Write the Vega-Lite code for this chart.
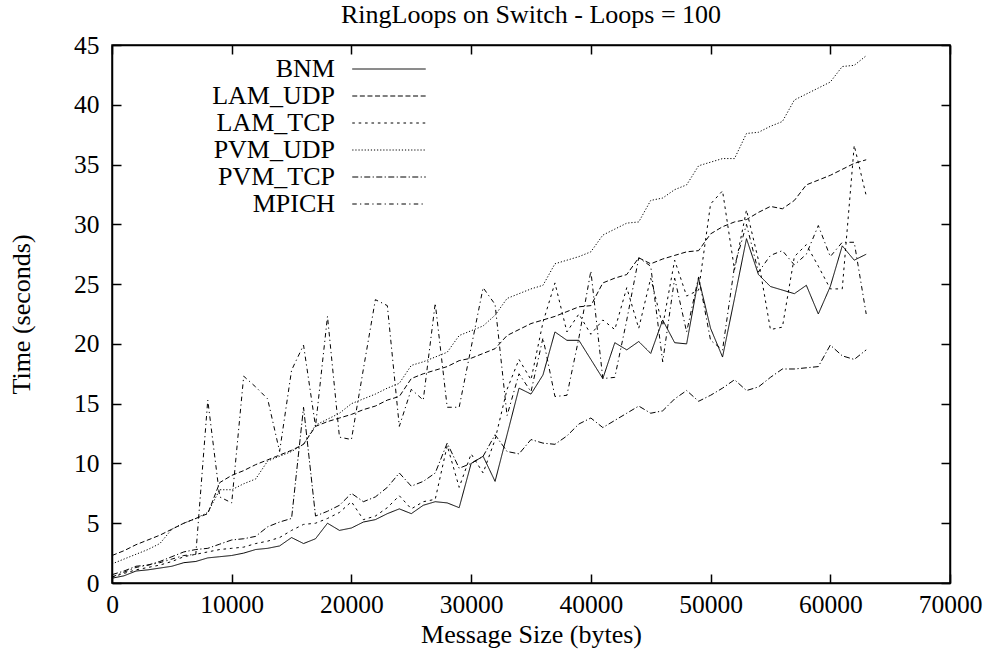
{
  "$schema": "https://vega.github.io/schema/vega-lite/v6.json",
  "width": 838,
  "height": 538,
  "autosize": {"type": "none"},
  "padding": {"left": 112, "top": 45, "right": 40, "bottom": 73},
  "background": "white",
  "title": {"text": "RingLoops on Switch - Loops = 100", "font": "Liberation Serif", "fontSize": 26, "fontWeight": "normal", "color": "black", "baseline": "alphabetic", "offset": -16},
  "config": {
    "view": {"stroke": "black", "strokeWidth": 1.5},
    "axis": {"grid": false, "labelFont": "Liberation Serif", "labelFontSize": 25.5, "labelColor": "black", "titleFont": "Liberation Serif", "titleFontSize": 26, "titleFontWeight": "normal", "titleColor": "black", "domainColor": "black", "domainWidth": 1.5, "tickColor": "black", "tickWidth": 1.5, "labelFlush": false, "labelOverlap": false},
    "legend": {"symbolStrokeColor": "black", "symbolStrokeWidth": 1}
  },
  "datasets": {
    "runs": [
      {"size":0,"BNM":0.4,"LAM_UDP":2.3,"LAM_TCP":0.5,"PVM_UDP":1.6,"PVM_TCP":0.7,"MPICH":0.5},
      {"size":1000,"BNM":0.6,"LAM_UDP":2.7,"LAM_TCP":0.8,"PVM_UDP":2.0,"PVM_TCP":1.0,"MPICH":0.9},
      {"size":2000,"BNM":1.0,"LAM_UDP":3.2,"LAM_TCP":1.1,"PVM_UDP":2.4,"PVM_TCP":1.4,"MPICH":1.3},
      {"size":3000,"BNM":1.1,"LAM_UDP":3.6,"LAM_TCP":1.3,"PVM_UDP":2.8,"PVM_TCP":1.5,"MPICH":1.5},
      {"size":4000,"BNM":1.25,"LAM_UDP":4.0,"LAM_TCP":1.5,"PVM_UDP":3.3,"PVM_TCP":1.8,"MPICH":1.7},
      {"size":5000,"BNM":1.4,"LAM_UDP":4.5,"LAM_TCP":1.8,"PVM_UDP":4.5,"PVM_TCP":2.2,"MPICH":2.0},
      {"size":6000,"BNM":1.7,"LAM_UDP":5.0,"LAM_TCP":2.2,"PVM_UDP":5.0,"PVM_TCP":2.6,"MPICH":2.3},
      {"size":7000,"BNM":1.8,"LAM_UDP":5.4,"LAM_TCP":2.4,"PVM_UDP":5.4,"PVM_TCP":2.8,"MPICH":2.4},
      {"size":8000,"BNM":2.1,"LAM_UDP":5.8,"LAM_TCP":2.6,"PVM_UDP":5.9,"PVM_TCP":2.9,"MPICH":15.3},
      {"size":9000,"BNM":2.2,"LAM_UDP":8.4,"LAM_TCP":2.8,"PVM_UDP":7.8,"PVM_TCP":3.25,"MPICH":7.2},
      {"size":10000,"BNM":2.3,"LAM_UDP":9.0,"LAM_TCP":2.9,"PVM_UDP":7.8,"PVM_TCP":3.6,"MPICH":6.7},
      {"size":11000,"BNM":2.5,"LAM_UDP":9.4,"LAM_TCP":3.0,"PVM_UDP":8.3,"PVM_TCP":3.7,"MPICH":17.3},
      {"size":12000,"BNM":2.8,"LAM_UDP":9.9,"LAM_TCP":3.3,"PVM_UDP":8.7,"PVM_TCP":3.9,"MPICH":16.4},
      {"size":13000,"BNM":2.9,"LAM_UDP":10.3,"LAM_TCP":3.5,"PVM_UDP":10.2,"PVM_TCP":4.7,"MPICH":15.4},
      {"size":14000,"BNM":3.1,"LAM_UDP":10.7,"LAM_TCP":3.8,"PVM_UDP":10.6,"PVM_TCP":5.1,"MPICH":11.0},
      {"size":15000,"BNM":3.8,"LAM_UDP":11.1,"LAM_TCP":4.4,"PVM_UDP":11.0,"PVM_TCP":5.4,"MPICH":17.8},
      {"size":16000,"BNM":3.3,"LAM_UDP":11.6,"LAM_TCP":4.9,"PVM_UDP":11.6,"PVM_TCP":14.7,"MPICH":19.9},
      {"size":17000,"BNM":3.7,"LAM_UDP":13.1,"LAM_TCP":5.0,"PVM_UDP":13.2,"PVM_TCP":5.6,"MPICH":13.1},
      {"size":18000,"BNM":5.0,"LAM_UDP":13.5,"LAM_TCP":5.4,"PVM_UDP":13.7,"PVM_TCP":6.0,"MPICH":22.3},
      {"size":19000,"BNM":4.4,"LAM_UDP":13.8,"LAM_TCP":5.9,"PVM_UDP":14.2,"PVM_TCP":6.5,"MPICH":12.2},
      {"size":20000,"BNM":4.6,"LAM_UDP":14.1,"LAM_TCP":6.8,"PVM_UDP":15.0,"PVM_TCP":7.5,"MPICH":12.0},
      {"size":21000,"BNM":5.1,"LAM_UDP":14.5,"LAM_TCP":5.3,"PVM_UDP":15.4,"PVM_TCP":6.8,"MPICH":17.9},
      {"size":22000,"BNM":5.3,"LAM_UDP":14.8,"LAM_TCP":5.6,"PVM_UDP":15.8,"PVM_TCP":7.2,"MPICH":23.7},
      {"size":23000,"BNM":5.8,"LAM_UDP":15.3,"LAM_TCP":6.3,"PVM_UDP":16.3,"PVM_TCP":8.0,"MPICH":23.2},
      {"size":24000,"BNM":6.2,"LAM_UDP":15.6,"LAM_TCP":7.3,"PVM_UDP":16.7,"PVM_TCP":9.2,"MPICH":13.1},
      {"size":25000,"BNM":5.8,"LAM_UDP":17.1,"LAM_TCP":6.2,"PVM_UDP":18.2,"PVM_TCP":8.1,"MPICH":16.2},
      {"size":26000,"BNM":6.5,"LAM_UDP":17.5,"LAM_TCP":6.8,"PVM_UDP":18.5,"PVM_TCP":8.5,"MPICH":15.3},
      {"size":27000,"BNM":6.8,"LAM_UDP":17.8,"LAM_TCP":7.0,"PVM_UDP":18.9,"PVM_TCP":9.2,"MPICH":23.4},
      {"size":28000,"BNM":6.7,"LAM_UDP":18.1,"LAM_TCP":11.5,"PVM_UDP":19.3,"PVM_TCP":11.7,"MPICH":14.7},
      {"size":29000,"BNM":6.3,"LAM_UDP":18.6,"LAM_TCP":8.0,"PVM_UDP":20.7,"PVM_TCP":9.6,"MPICH":14.7},
      {"size":30000,"BNM":10.0,"LAM_UDP":18.8,"LAM_TCP":10.8,"PVM_UDP":21.1,"PVM_TCP":10.0,"MPICH":19.7},
      {"size":31000,"BNM":10.6,"LAM_UDP":19.2,"LAM_TCP":9.2,"PVM_UDP":21.5,"PVM_TCP":10.6,"MPICH":24.7},
      {"size":32000,"BNM":8.5,"LAM_UDP":19.6,"LAM_TCP":12.0,"PVM_UDP":22.4,"PVM_TCP":12.4,"MPICH":23.3},
      {"size":33000,"BNM":12.4,"LAM_UDP":20.7,"LAM_TCP":16.2,"PVM_UDP":23.8,"PVM_TCP":11.0,"MPICH":14.0},
      {"size":34000,"BNM":16.3,"LAM_UDP":21.2,"LAM_TCP":18.7,"PVM_UDP":24.2,"PVM_TCP":10.8,"MPICH":17.5},
      {"size":35000,"BNM":15.8,"LAM_UDP":21.7,"LAM_TCP":17.0,"PVM_UDP":24.6,"PVM_TCP":12.0,"MPICH":16.0},
      {"size":36000,"BNM":17.4,"LAM_UDP":22.0,"LAM_TCP":21.8,"PVM_UDP":24.9,"PVM_TCP":11.7,"MPICH":20.5},
      {"size":37000,"BNM":21.0,"LAM_UDP":22.3,"LAM_TCP":25.1,"PVM_UDP":26.7,"PVM_TCP":11.6,"MPICH":15.6},
      {"size":38000,"BNM":20.3,"LAM_UDP":22.7,"LAM_TCP":21.0,"PVM_UDP":27.0,"PVM_TCP":12.3,"MPICH":15.7},
      {"size":39000,"BNM":20.3,"LAM_UDP":23.1,"LAM_TCP":22.5,"PVM_UDP":27.3,"PVM_TCP":13.3,"MPICH":20.5},
      {"size":40000,"BNM":18.7,"LAM_UDP":23.2,"LAM_TCP":20.8,"PVM_UDP":27.7,"PVM_TCP":13.8,"MPICH":26.1},
      {"size":41000,"BNM":17.1,"LAM_UDP":25.1,"LAM_TCP":22.0,"PVM_UDP":29.1,"PVM_TCP":13.0,"MPICH":17.1},
      {"size":42000,"BNM":20.1,"LAM_UDP":25.5,"LAM_TCP":21.2,"PVM_UDP":29.6,"PVM_TCP":13.6,"MPICH":17.2},
      {"size":43000,"BNM":19.5,"LAM_UDP":25.8,"LAM_TCP":24.7,"PVM_UDP":30.1,"PVM_TCP":14.2,"MPICH":22.0},
      {"size":44000,"BNM":20.2,"LAM_UDP":27.2,"LAM_TCP":21.3,"PVM_UDP":30.2,"PVM_TCP":14.8,"MPICH":27.2},
      {"size":45000,"BNM":19.2,"LAM_UDP":26.7,"LAM_TCP":25.5,"PVM_UDP":32.0,"PVM_TCP":14.2,"MPICH":26.5},
      {"size":46000,"BNM":22.0,"LAM_UDP":27.1,"LAM_TCP":21.5,"PVM_UDP":32.2,"PVM_TCP":14.4,"MPICH":18.5},
      {"size":47000,"BNM":20.1,"LAM_UDP":27.4,"LAM_TCP":27.0,"PVM_UDP":32.9,"PVM_TCP":15.4,"MPICH":25.5},
      {"size":48000,"BNM":20.0,"LAM_UDP":27.7,"LAM_TCP":24.0,"PVM_UDP":33.3,"PVM_TCP":16.1,"MPICH":21.0},
      {"size":49000,"BNM":25.5,"LAM_UDP":27.8,"LAM_TCP":24.5,"PVM_UDP":34.9,"PVM_TCP":15.2,"MPICH":25.6},
      {"size":50000,"BNM":21.3,"LAM_UDP":29.2,"LAM_TCP":31.7,"PVM_UDP":35.2,"PVM_TCP":15.7,"MPICH":20.3},
      {"size":51000,"BNM":18.9,"LAM_UDP":29.8,"LAM_TCP":32.8,"PVM_UDP":35.5,"PVM_TCP":16.3,"MPICH":19.5},
      {"size":52000,"BNM":23.8,"LAM_UDP":30.2,"LAM_TCP":26.2,"PVM_UDP":35.5,"PVM_TCP":17.0,"MPICH":26.5},
      {"size":53000,"BNM":28.8,"LAM_UDP":30.4,"LAM_TCP":31.2,"PVM_UDP":37.6,"PVM_TCP":16.1,"MPICH":30.0},
      {"size":54000,"BNM":25.8,"LAM_UDP":31.0,"LAM_TCP":27.0,"PVM_UDP":37.7,"PVM_TCP":16.4,"MPICH":26.0},
      {"size":55000,"BNM":24.8,"LAM_UDP":31.5,"LAM_TCP":21.2,"PVM_UDP":38.2,"PVM_TCP":17.2,"MPICH":27.4},
      {"size":56000,"BNM":24.5,"LAM_UDP":31.3,"LAM_TCP":21.4,"PVM_UDP":38.6,"PVM_TCP":17.9,"MPICH":27.8},
      {"size":57000,"BNM":24.2,"LAM_UDP":32.0,"LAM_TCP":27.3,"PVM_UDP":40.4,"PVM_TCP":17.9,"MPICH":26.6},
      {"size":58000,"BNM":24.9,"LAM_UDP":33.3,"LAM_TCP":28.3,"PVM_UDP":40.9,"PVM_TCP":18.0,"MPICH":27.5},
      {"size":59000,"BNM":22.5,"LAM_UDP":33.7,"LAM_TCP":26.5,"PVM_UDP":41.4,"PVM_TCP":18.1,"MPICH":29.9},
      {"size":60000,"BNM":24.8,"LAM_UDP":34.1,"LAM_TCP":24.6,"PVM_UDP":41.9,"PVM_TCP":19.9,"MPICH":27.3},
      {"size":61000,"BNM":28.2,"LAM_UDP":34.6,"LAM_TCP":24.6,"PVM_UDP":43.2,"PVM_TCP":19.0,"MPICH":28.5},
      {"size":62000,"BNM":27.0,"LAM_UDP":35.1,"LAM_TCP":36.6,"PVM_UDP":43.3,"PVM_TCP":18.7,"MPICH":28.5},
      {"size":63000,"BNM":27.5,"LAM_UDP":35.4,"LAM_TCP":32.4,"PVM_UDP":44.1,"PVM_TCP":19.5,"MPICH":22.5}
    ]
  },
  "data": {"name": "runs"},
  "transform": [{"fold": ["BNM", "LAM_UDP", "LAM_TCP", "PVM_UDP", "PVM_TCP", "MPICH"], "as": ["series", "time"]}],
  "layer": [
    {
      "mark": {"type": "line", "color": "black", "strokeWidth": 1, "clip": true},
      "encoding": {
        "x": {"field": "size", "type": "quantitative", "scale": {"domain": [0, 70000], "nice": false, "zero": false},
              "axis": {"orient": "bottom", "title": "Message Size (bytes)", "values": [0,10000,20000,30000,40000,50000,60000,70000], "format": "d", "tickSize": -9, "labelPadding": 18, "titlePadding": 4}},
        "y": {"field": "time", "type": "quantitative", "scale": {"domain": [0, 45], "nice": false},
              "axis": {"orient": "left", "title": "Time (seconds)", "values": [0,5,10,15,20,25,30,35,40,45], "tickSize": -9, "labelPadding": 22, "titlePadding": 39}},
        "strokeDash": {"field": "series", "type": "nominal",
          "scale": {"domain": ["BNM", "LAM_UDP", "LAM_TCP", "PVM_UDP", "PVM_TCP", "MPICH"],
                    "range": [[1, 0], [5, 2.6], [2.6, 3.8], [1.2, 1.9], [6, 2.4, 1.2, 2.4], [4.5, 3.3, 1.2, 3.3]]},
          "legend": {"title": null, "orient": "none", "legendX": 264, "legendY": 11, "symbolType": "M-3,0H3", "symbolSize": 600, "symbolStrokeWidth": 1, "symbolStrokeColor": "black", "symbolFillColor": "transparent", "labelFont": "Liberation Serif", "labelFontSize": 26, "labelColor": "black", "rowPadding": 1,
                     "encode": {"labels": {"update": {"x": {"value": -41}, "align": {"value": "right"}}}}}
        }
      }
    },
    {
      "mark": {"type": "point", "opacity": 0},
      "encoding": {
        "x": {"field": "size", "type": "quantitative", "axis": {"orient": "top", "title": null, "labels": false, "values": [0,10000,20000,30000,40000,50000,60000,70000], "tickSize": -9}},
        "y": {"field": "time", "type": "quantitative", "axis": {"orient": "right", "title": null, "labels": false, "values": [0,5,10,15,20,25,30,35,40,45], "tickSize": -9}}
      }
    }
  ],
  "resolve": {"axis": {"x": "independent", "y": "independent"}}
}
